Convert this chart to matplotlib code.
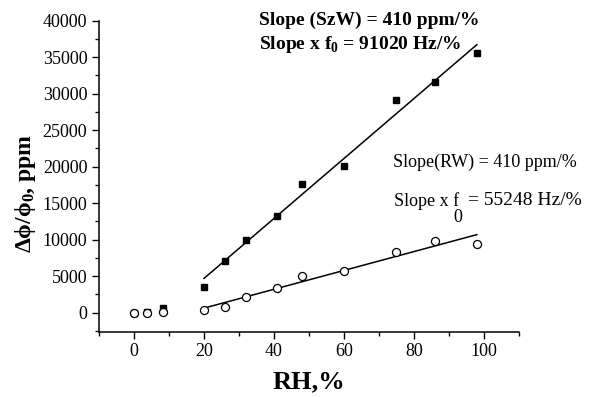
import numpy as np
import matplotlib.pyplot as plt
from matplotlib.ticker import MultipleLocator

plt.rcParams['font.family'] = ['Liberation Serif', 'DejaVu Serif']
plt.rcParams['mathtext.fontset'] = 'custom'
plt.rcParams['mathtext.rm'] = 'Liberation Serif'
plt.rcParams['mathtext.bf'] = 'Liberation Serif:bold'

# SzW (filled squares)
rh_szw = [0, 3.6, 8.4, 20, 26, 32, 41, 48, 60, 75, 86, 98]
dphi_szw = [0, 100, 600, 3560, 7080, 9960, 13290, 17590, 20140, 29140, 31560, 35540]

# RW (open circles)
rh_rw = [0, 3.6, 8.4, 20, 26, 32, 41, 48, 60, 75, 86, 98]
dphi_rw = [-80, 0, 140, 370, 820, 2150, 3420, 4990, 5750, 8360, 9820, 9450]

fit_start = 3  # linear fits use RH >= 20 %

fig = plt.figure(figsize=(6.04, 3.97), dpi=100)
ax = fig.add_axes([0.164, 0.1645, 0.695, 0.7835])

x1 = np.array(rh_szw[fit_start:])
p1 = np.polyfit(x1, dphi_szw[fit_start:], 1)
x2 = np.array(rh_rw[fit_start:])
p2 = np.polyfit(x2, dphi_rw[fit_start:], 1)
ax.plot(x1, np.polyval(p1, x1), color='black', lw=1.1)
ax.plot(x2, np.polyval(p2, x2), color='black', lw=1.1)

ax.plot(rh_szw, dphi_szw, 's', color='black', ms=4.6, zorder=3)
ax.plot(rh_rw, dphi_rw, 'o', mfc='white', mec='black', mew=0.9, ms=5.8, zorder=4)

ax.set_xlim(-10, 110)
ax.set_ylim(-2600, 40000)
ax.xaxis.set_major_locator(MultipleLocator(20))
ax.xaxis.set_minor_locator(MultipleLocator(10))
ax.yaxis.set_major_locator(MultipleLocator(5000))
ax.yaxis.set_minor_locator(MultipleLocator(2500))
ax.tick_params(which='major', length=5, width=1, labelsize=13, direction='out')
ax.tick_params(which='minor', length=3, width=1, direction='out')
ax.spines['right'].set_visible(False)
ax.spines['top'].set_visible(False)
ax.spines['left'].set_linewidth(1.1)
ax.spines['bottom'].set_linewidth(1.1)

ax.set_xlabel('RH,%', fontsize=19, fontweight='bold')
ax.xaxis.set_label_coords(0.5, -0.125)
ax.set_ylabel(r'$\mathbf{\Delta\phi/\phi_0}$, ppm', fontsize=17, fontweight='bold')
ax.yaxis.set_label_coords(-0.145, 0.446)

fig.text(0.429, 0.95, 'Slope (SzW) = 410 ppm/%',
         fontsize=14, fontweight='bold', ha='left', va='center')
fig.text(0.429, 0.887, r'Slope x f$_\mathbf{0}$ = 91020 Hz/%',
         fontsize=14, fontweight='bold', ha='left', va='center')

fig.text(0.651, 0.59, 'Slope(RW) = 410 ppm/%', fontsize=13, ha='left', va='center')
fig.text(0.652, 0.494, 'Slope x f', fontsize=13, ha='left', va='center')
fig.text(0.758, 0.451, '0', fontsize=13, ha='center', va='center')
fig.text(0.775, 0.494, '= 55248 Hz/%', fontsize=14, ha='left', va='center')

fig.savefig('out.png', dpi=100, facecolor='white')
